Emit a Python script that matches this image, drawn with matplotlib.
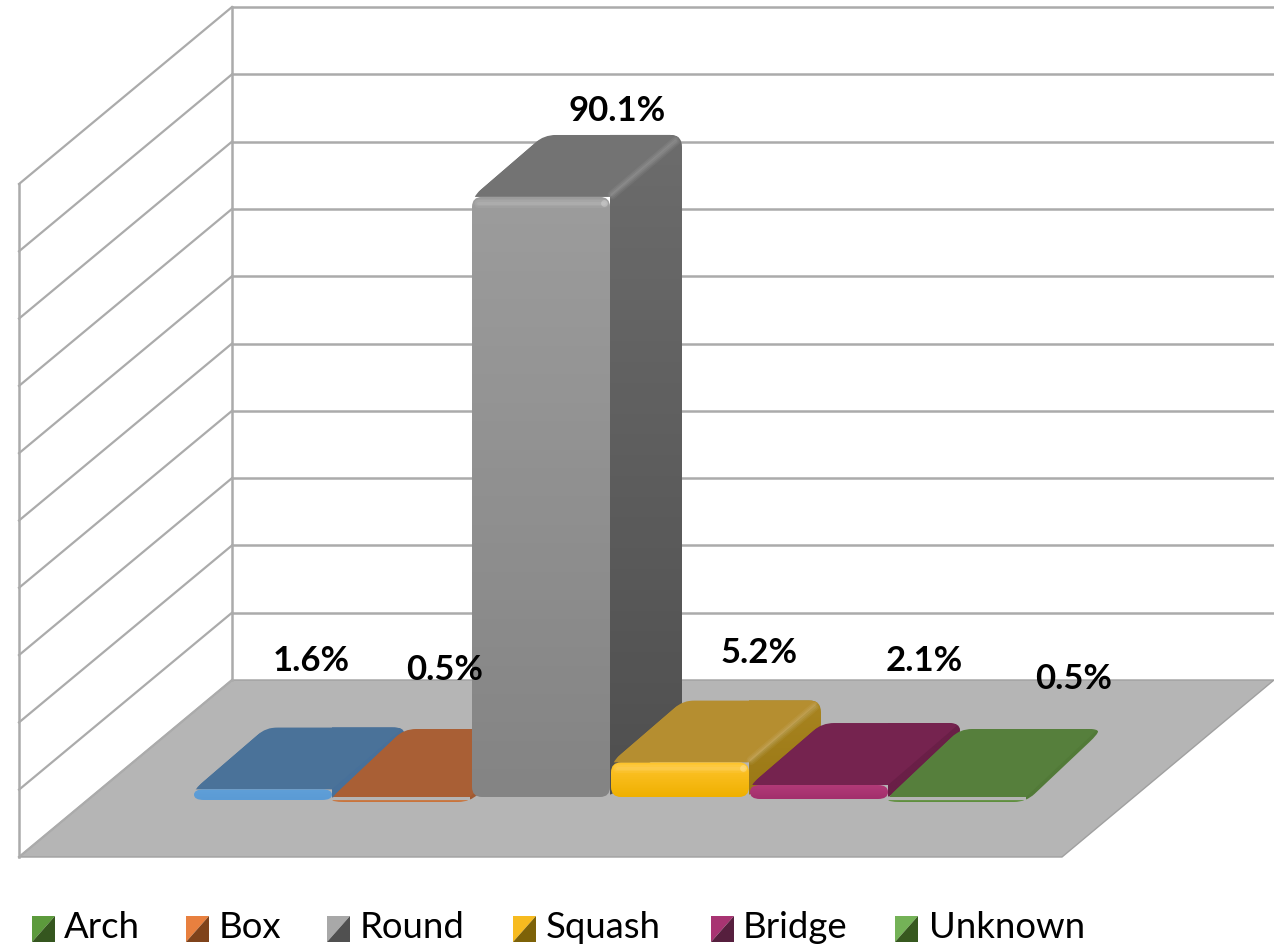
import numpy as np
import matplotlib
matplotlib.use('Agg')
import matplotlib.pyplot as plt
from matplotlib.path import Path
from matplotlib.patches import PathPatch, Polygon
from matplotlib.colors import LinearSegmentedColormap

plt.rcParams['font.family'] = ['Lato', 'DejaVu Sans']

# data
categories = ['Arch', 'Box', 'Round', 'Squash', 'Bridge', 'Unknown']
values = [1.6, 0.5, 90.1, 5.2, 2.1, 0.5]
grid_values = [0, 10, 20, 30, 40, 50, 60, 70, 80, 90, 100]

# colours: front top, front bottom, top face, side top, side bottom
bar_colors = [
    ('#5f9fd8', '#5b9bd5', '#4a7299', '#47709a', '#47709a'),
    ('#c9743c', '#c9703a', '#a95f35', '#a05a32', '#a05a32'),
    ('#9c9c9c', '#848484', '#737373', '#6c6c6c', '#4f4f4f'),
    ('#ffc52e', '#efb000', '#b58e30', '#a88420', '#9a7815'),
    ('#b23a78', '#a22f6c', '#75234f', '#6a1f47', '#6a1f47'),
    ('#5f8f3e', '#5f8f3e', '#567f3c', '#527a38', '#527a38'),
]
legend_colors = [
    ('#5c9a3c', '#35561f'), ('#e8803f', '#7f431b'), ('#a8a8a8', '#505050'),
    ('#f7bb1f', '#7d6208'), ('#a83472', '#561f3e'), ('#74b257', '#37591f'),
]

# layout in pixels
bar_left = [194, 332, 472, 611, 750, 888]
bar_base = [800, 802, 797, 797, 799, 802]
bar_w = 138
depth_x, depth_y = 72, 62
label_xy = [(311, 661), (445, 670), (617, 111), (759, 653), (924, 661), (1074, 679)]
legend_x = [32, 186, 327, 513, 711, 895]
legend_text_x = [64, 219, 360, 546, 743, 929]

GRID_PX_PER_UNIT = 6.73
BAR_PX_PER_UNIT = 6.66
FLOOR_Y = 680


def round_poly(pts, r):
    # polygon with rounded corners
    verts, codes = [], []
    n = len(pts)
    for i in range(n):
        p = np.array(pts[i], float)
        a = np.array(pts[i - 1], float)
        b = np.array(pts[(i + 1) % n], float)
        ra = min(r, np.linalg.norm(a - p) / 2.01)
        rb = min(r, np.linalg.norm(b - p) / 2.01)
        p1 = p + (a - p) / np.linalg.norm(a - p) * ra
        p2 = p + (b - p) / np.linalg.norm(b - p) * rb
        verts += [p1, p, p2]
        codes += [Path.LINETO if i else Path.MOVETO, Path.CURVE3, Path.CURVE3]
    verts.append(verts[0])
    codes.append(Path.CLOSEPOLY)
    return Path(verts, codes)


def grad_face(ax, pts, c1, c2, z, clip):
    xs = [p[0] for p in pts]
    ys = [p[1] for p in pts]
    cmap = LinearSegmentedColormap.from_list('g', [c1, c2])
    im = ax.imshow(np.linspace(0, 1, 64).reshape(-1, 1), cmap=cmap, aspect='auto',
                   extent=(min(xs), max(xs), max(ys), min(ys)), zorder=z)
    im.set_clip_path(clip)


fig = plt.figure(figsize=(12.74, 9.49), dpi=100)
ax = fig.add_axes([0, 0, 1, 1])

# walls and floor
line_c = '#ababab'
ax.add_patch(Polygon([(232, FLOOR_Y), (1274, FLOOR_Y), (1062, 857), (19, 857)],
                     fc='#b5b5b5', ec='#a0a0a0', lw=1, zorder=1))
for g in grid_values:
    y = FLOOR_Y - g * GRID_PX_PER_UNIT
    if g > 0:
        ax.plot([232, 1274], [y, y], color=line_c, lw=1.8, zorder=2)
    ax.plot([19, 232], [y + 177, y], color=line_c, lw=1.6, zorder=2)
ax.plot([232, 232], [FLOOR_Y - 100 * GRID_PX_PER_UNIT, FLOOR_Y], color=line_c, lw=1.8, zorder=2)
ax.plot([19, 19], [FLOOR_Y - 100 * GRID_PX_PER_UNIT + 177, 857], color=line_c, lw=1.8, zorder=2)

# bars, left to right so the later ones sit in front
for i, v in enumerate(values):
    x0 = bar_left[i]
    x1 = x0 + bar_w
    b = bar_base[i]
    t = b - max(v * BAR_PX_PER_UNIT, 5)
    dy = depth_y if v > 1 else 68
    front_c1, front_c2, top_c, side_c1, side_c2 = bar_colors[i]
    z = 5 + i

    # silhouette holds the rounded outline, the faces are clipped to it
    shape = [(x0, t), (x0 + depth_x, t - dy), (x1 + depth_x, t - dy),
             (x1 + depth_x, b - dy), (x1, b), (x0, b)]
    sil = PathPatch(round_poly(shape, 12), fc='none', ec='none', zorder=z)
    ax.add_patch(sil)

    grad_face(ax, [(x1, b), (x1 + depth_x, b - dy), (x1 + depth_x, t - dy), (x1, t)],
              side_c1, side_c2, z, sil)
    top = Polygon([(x0, t), (x0 + depth_x, t - dy), (x1 + depth_x, t - dy), (x1, t)],
                  fc=top_c, ec='none', zorder=z + 0.1)
    ax.add_patch(top)
    top.set_clip_path(sil)

    if v > 1:
        # front face
        front = PathPatch(round_poly([(x0, t), (x1, t), (x1, b), (x0, b)], 10),
                          fc='none', ec='none', zorder=z + 0.2)
        ax.add_patch(front)
        grad_face(ax, [(x0, t), (x1, t), (x1, b), (x0, b)], front_c1, front_c2, z + 0.2, front)
    else:
        # very flat bars only show a thin lighter lip
        ln, = ax.plot([x0, x1 - 4], [b - 1, b - 1], color=front_c1, lw=2, zorder=z + 0.2)
        ln.set_clip_path(sil)

    if v > 3:
        # soft bevels on the taller bars
        for w, a in [(9, .05), (6, .06), (3, .07)]:
            ln, = ax.plot([x1 + 2, x1 + depth_x - 6], [t - 2, t - dy + 6], color='#ffffff',
                          lw=w * .72, alpha=a, solid_capstyle='round', zorder=z + 0.3)
            ln.set_clip_path(sil)
            ln, = ax.plot([x0 + 6, x1 - 6], [t + 6, t + 6], color='#ffffff',
                          lw=w * .72, alpha=a, solid_capstyle='round', zorder=z + 0.3)
            ln.set_clip_path(front)
        ax.scatter([x1 - 6], [t + 6], s=24, color='#ffffff', alpha=.25, lw=0, zorder=z + 0.35)

# value labels
for (lx, ly), v in zip(label_xy, values):
    ax.text(lx, ly, f'{v:.1f}%', ha='center', va='center', fontsize=25,
            fontweight='bold', color='black', zorder=20)

# legend
for x, tx, name, (c_light, c_dark) in zip(legend_x, legend_text_x, categories, legend_colors):
    ax.add_patch(Polygon([(x, 916), (x + 23, 916), (x, 942)], fc=c_light, ec='none', zorder=20))
    ax.add_patch(Polygon([(x + 23, 916), (x + 23, 942), (x, 942)], fc=c_dark, ec='none', zorder=20))
    ax.text(tx, 928, name, ha='left', va='center', fontsize=26.3, color='black', zorder=20)

ax.set_xlim(0, 1274)
ax.set_ylim(949, 0)
ax.axis('off')

fig.savefig('out.png', dpi=100, facecolor='white')
